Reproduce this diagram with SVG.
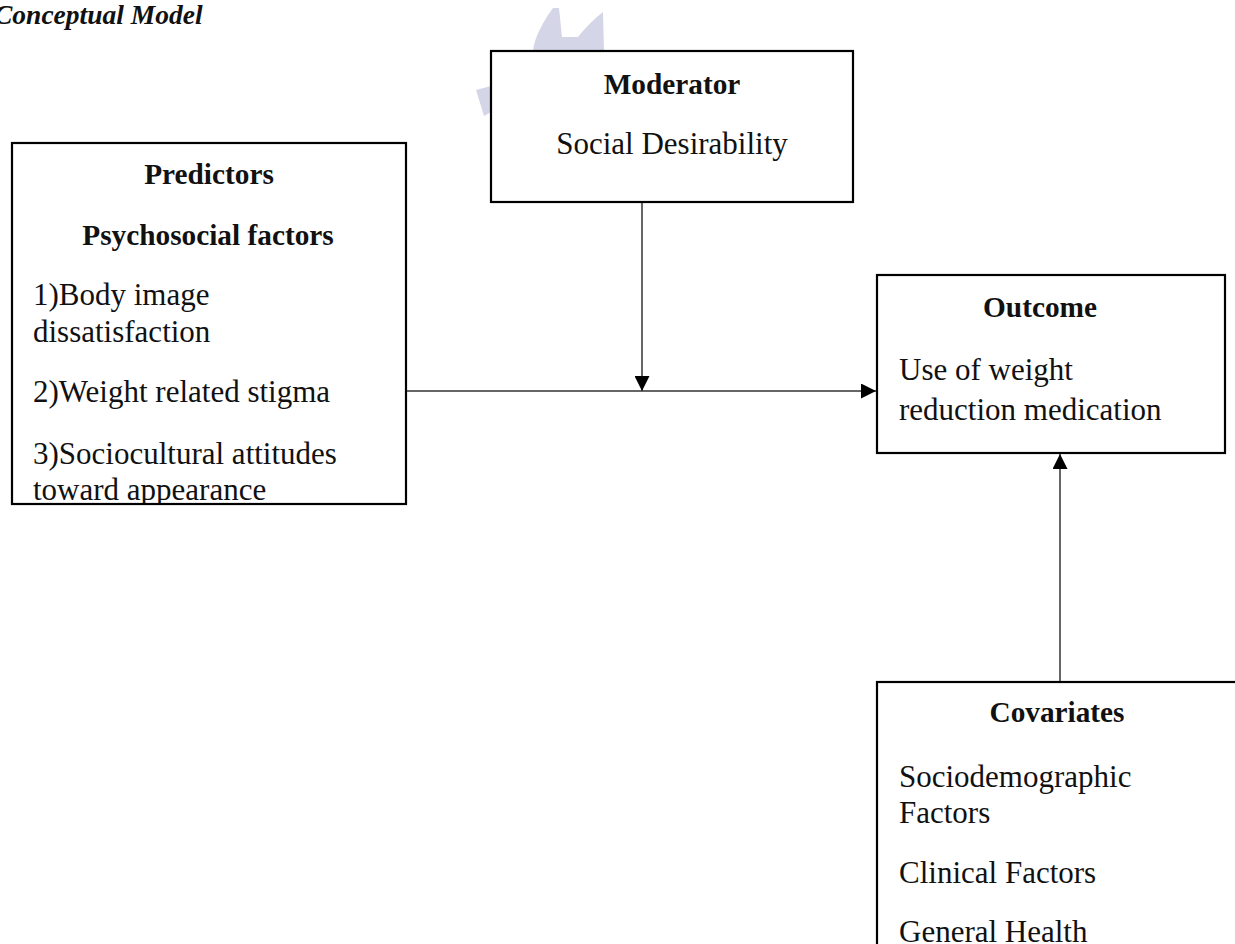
<svg xmlns="http://www.w3.org/2000/svg" width="1235" height="944" viewBox="0 0 1235 944">
<style>
.box{fill:#ffffff;stroke:#000000;stroke-width:2.2}
.t{font-family:"Liberation Serif","Times New Roman",serif;font-size:31px;fill:#111111}
.b{font-family:"Liberation Serif","Times New Roman",serif;font-size:29.3px;font-weight:bold;fill:#111111}
.title{font-family:"Liberation Serif","Times New Roman",serif;font-size:27.5px;font-weight:bold;font-style:italic;fill:#111111}
.conn{stroke:#333333;stroke-width:1.5;fill:none}
.wm{fill:#d4d6e8}
</style>
<defs>
<marker id="arrow" markerUnits="userSpaceOnUse" markerWidth="15" markerHeight="15" refX="15" refY="7.5" orient="auto">
<path d="M0,0 L15,7.5 L0,15 Z" fill="#000000"/>
</marker>
<clipPath id="predClip"><rect x="12" y="143" width="394" height="360"/></clipPath>
</defs>
<rect x="0" y="0" width="1235" height="944" fill="#ffffff"/>
<text class="title" x="-6" y="24">Conceptual Model</text>
<g id="watermark">
<path class="wm" d="M533,51 C534,38 544,20 553,8 L559,8 L562,37 L578,37 C586,27 595,18 603,12 L604,51 Z"/>
<path class="wm" d="M476,90 L491,86 L491,112 L484,116 Z"/>
</g>
<g id="predictors">
<rect class="box" x="12" y="143" width="394" height="361"/>
<g clip-path="url(#predClip)">
<text class="b" x="209" y="184" text-anchor="middle">Predictors</text>
<text class="b" x="208" y="245" text-anchor="middle">Psychosocial factors</text>
<text class="t" x="33" y="305">1)Body image</text>
<text class="t" x="33" y="342">dissatisfaction</text>
<text class="t" x="33" y="402">2)Weight related stigma</text>
<text class="t" x="33" y="464">3)Sociocultural attitudes</text>
<text class="t" x="33" y="500">toward appearance</text>
</g>
<line x1="12" y1="504" x2="406" y2="504" stroke="#000" stroke-width="2.2"/>
</g>
<g id="moderator">
<rect class="box" x="491" y="51" width="362" height="151"/>
<text class="b" x="672" y="94" text-anchor="middle">Moderator</text>
<text class="t" x="672" y="154" text-anchor="middle">Social Desirability</text>
</g>
<g id="outcome">
<rect class="box" x="877" y="275" width="348" height="178"/>
<text class="b" x="1040" y="317" text-anchor="middle">Outcome</text>
<text class="t" x="899" y="380">Use of weight</text>
<text class="t" x="899" y="420">reduction medication</text>
</g>
<g id="covariates">
<rect class="box" x="877" y="682" width="400" height="300"/>
<text class="b" x="1057" y="722" text-anchor="middle">Covariates</text>
<text class="t" x="899" y="787">Sociodemographic</text>
<text class="t" x="899" y="823">Factors</text>
<text class="t" x="899" y="883">Clinical Factors</text>
<text class="t" x="899" y="942">General Health</text>
</g>
<g id="connectors">
<line class="conn" x1="407" y1="391" x2="876" y2="391" marker-end="url(#arrow)"/>
<line class="conn" x1="642" y1="203" x2="642" y2="391" marker-end="url(#arrow)"/>
<line class="conn" x1="1060" y1="681" x2="1060" y2="454" marker-end="url(#arrow)"/>
</g>
</svg>
